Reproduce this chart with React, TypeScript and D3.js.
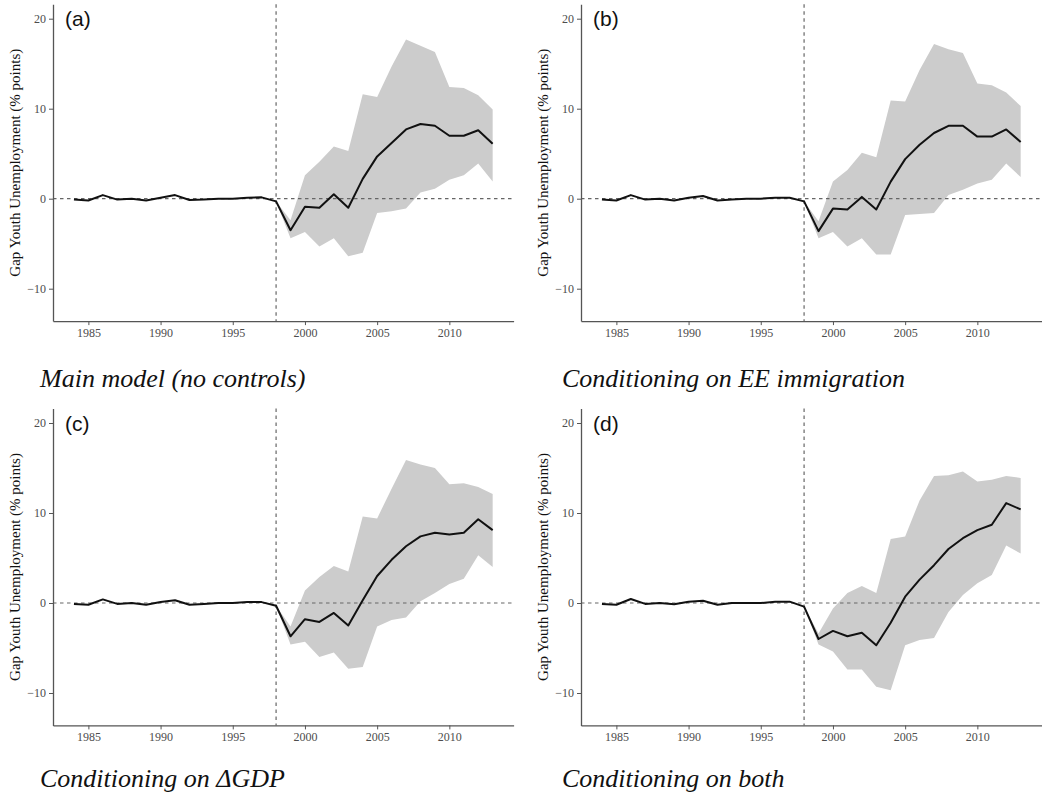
import React from "react";
import * as d3 from "d3";

// years of the series and of the post-treatment confidence band
const years = [
  1984, 1985, 1986, 1987, 1988, 1989, 1990, 1991, 1992, 1993, 1994, 1995, 1996,
  1997, 1998, 1999, 2000, 2001, 2002, 2003, 2004, 2005, 2006, 2007, 2008, 2009,
  2010, 2011, 2012, 2013,
];
const bandYears = [
  1998, 1999, 2000, 2001, 2002, 2003, 2004, 2005, 2006, 2007, 2008, 2009, 2010,
  2011, 2012, 2013,
];
const treatYear = 1998;

// (a) main model
const gapA = [
  -0.1, -0.2, 0.4, -0.1, 0.0, -0.2, 0.1, 0.4, -0.15, -0.1, 0.0, 0.0, 0.1, 0.15,
  -0.3, -3.5, -0.9, -1.0, 0.5, -1.0, 2.2, 4.7, 6.2, 7.7, 8.3, 8.1, 7.0, 7.0, 7.6, 6.1,
];
const upperA = [-0.3, -2.4, 2.6, 4.1, 5.8, 5.3, 11.6, 11.3, 14.7, 17.7, 17.0, 16.3, 12.4, 12.3, 11.5, 9.9];
const lowerA = [-0.3, -4.4, -3.7, -5.3, -4.4, -6.4, -6.0, -1.6, -1.4, -1.1, 0.7, 1.1, 2.1, 2.6, 3.9, 1.9];

// (b) EE immigration
const gapB = [
  -0.1, -0.2, 0.4, -0.1, 0.0, -0.2, 0.1, 0.3, -0.2, -0.1, 0.0, 0.0, 0.1, 0.1,
  -0.3, -3.6, -1.1, -1.2, 0.2, -1.2, 1.9, 4.4, 6.0, 7.3, 8.1, 8.1, 6.9, 6.9, 7.7, 6.3,
];
const upperB = [-0.3, -2.5, 1.9, 3.2, 5.1, 4.6, 10.9, 10.8, 14.3, 17.2, 16.6, 16.2, 12.8, 12.6, 11.8, 10.3];
const lowerB = [-0.3, -4.4, -3.7, -5.3, -4.4, -6.2, -6.2, -1.8, -1.7, -1.6, 0.4, 1.0, 1.7, 2.1, 3.9, 2.4];

// (c) delta GDP
const gapC = [
  -0.1, -0.2, 0.4, -0.1, 0.0, -0.2, 0.1, 0.3, -0.2, -0.1, 0.0, 0.0, 0.1, 0.1,
  -0.3, -3.7, -1.8, -2.1, -1.1, -2.5, 0.3, 3.0, 4.8, 6.3, 7.4, 7.8, 7.6, 7.8, 9.3, 8.1,
];
const upperC = [-0.3, -2.6, 1.4, 2.9, 4.1, 3.5, 9.6, 9.4, 12.7, 15.9, 15.4, 15.0, 13.2, 13.3, 12.9, 12.1];
const lowerC = [-0.3, -4.6, -4.3, -6.0, -5.5, -7.3, -7.1, -2.6, -1.9, -1.6, 0.2, 1.1, 2.1, 2.7, 5.3, 4.0];

// (d) both
const gapD = [
  -0.1, -0.2, 0.45, -0.1, 0.0, -0.15, 0.15, 0.25, -0.2, 0.0, 0.0, 0.0, 0.15, 0.15,
  -0.4, -4.0, -3.1, -3.7, -3.3, -4.7, -2.2, 0.7, 2.6, 4.2, 6.0, 7.2, 8.1, 8.7, 11.1, 10.4,
];
const upperD = [-0.4, -3.4, -0.6, 1.1, 1.9, 1.1, 7.1, 7.4, 11.4, 14.1, 14.2, 14.6, 13.5, 13.7, 14.1, 13.9];
const lowerD = [-0.4, -4.6, -5.4, -7.4, -7.4, -9.3, -9.7, -4.7, -4.1, -3.9, -1.0, 0.9, 2.2, 3.1, 6.4, 5.5];

const panelLabels = ["(a)", "(b)", "(c)", "(d)"];
const captions = [
  "Main model (no controls)",
  "Conditioning on EE immigration",
  "Conditioning on \u0394GDP",
  "Conditioning on both",
];
const yTitle = "Gap Youth Unemployment (% points)";
const xTicks = [1985, 1990, 1995, 2000, 2005, 2010];
const yTicks = [-10, 0, 10, 20];

const panels = [
  { gap: gapA, upper: upperA, lower: lowerA },
  { gap: gapB, upper: upperB, lower: lowerB },
  { gap: gapC, upper: upperC, lower: lowerC },
  { gap: gapD, upper: upperD, lower: lowerD },
];

const SERIF = "'Liberation Serif', 'Times New Roman', serif";
const SANS = "'Liberation Sans', Arial, sans-serif";

function App() {
  const svgRef = React.useRef<SVGSVGElement>(null);

  React.useEffect(() => {
    const svg = d3.select(svgRef.current);
    svg.selectAll("*").remove();

    const colLeft = [53, 581];
    const rowTop = [4.3, 408.6];
    const captionX = [40, 562];
    const captionY = [387, 787];
    const w = 460.6;
    const h = 316.8;

    panels.forEach((p, i) => {
      const col = i % 2;
      const row = Math.floor(i / 2);
      const left = colLeft[col];
      const top = rowTop[row];

      const x = d3.scaleLinear().domain([1982.55, 2014.45]).range([left, left + w]);
      const y = d3.scaleLinear().domain([-13.6, 21.6]).range([top + h, top]);

      const g = svg.append("g");

      // ribbon
      const band = bandYears.map((yr, j) => ({ yr, lo: p.lower[j], hi: p.upper[j] }));
      const areaGen = d3
        .area<{ yr: number; lo: number; hi: number }>()
        .x((d) => x(d.yr))
        .y0((d) => y(d.lo))
        .y1((d) => y(d.hi));
      g.append("path").datum(band).attr("fill", "#cccccc").attr("d", areaGen);

      // reference lines
      g.append("line")
        .attr("x1", x(1982.55))
        .attr("x2", x(2014.45))
        .attr("y1", y(0))
        .attr("y2", y(0))
        .attr("stroke", "#666")
        .attr("stroke-width", 1.2)
        .attr("stroke-dasharray", "3.5,3.5");
      g.append("line")
        .attr("x1", x(treatYear))
        .attr("x2", x(treatYear))
        .attr("y1", y(21.6))
        .attr("y2", y(-13.6))
        .attr("stroke", "#666")
        .attr("stroke-width", 1.2)
        .attr("stroke-dasharray", "3.5,3.5");

      // gap line
      const lineGen = d3
        .line<number>()
        .x((_, j) => x(years[j]))
        .y((d) => y(d));
      g.append("path")
        .datum(p.gap)
        .attr("fill", "none")
        .attr("stroke", "#111")
        .attr("stroke-width", 2)
        .attr("stroke-linejoin", "round")
        .attr("d", lineGen);

      // axes
      const xAxis = d3
        .axisBottom(x)
        .tickValues(xTicks)
        .tickFormat(d3.format("d"))
        .tickSize(4)
        .tickSizeOuter(0)
        .tickPadding(3);
      const xg = g.append("g").attr("transform", `translate(0, ${top + h})`).call(xAxis);

      const yAxis = d3
        .axisLeft(y)
        .tickValues(yTicks)
        .tickSize(4)
        .tickSizeOuter(0)
        .tickPadding(3);
      const yg = g.append("g").attr("transform", `translate(${left}, 0)`).call(yAxis);

      [xg, yg].forEach((ag) => {
        ag.select(".domain").attr("stroke", "#555").attr("stroke-width", 1.3);
        ag.selectAll(".tick line").attr("stroke", "#555").attr("stroke-width", 1);
        ag.selectAll(".tick text")
          .attr("fill", "#4d4d4d")
          .style("font-family", SERIF)
          .style("font-size", "12px");
      });

      // y title
      g.append("text")
        .attr("transform", `translate(${left - 38}, ${top + h / 2}) rotate(-90)`)
        .attr("text-anchor", "middle")
        .attr("dy", "0.35em")
        .attr("fill", "#111")
        .style("font-family", SERIF)
        .style("font-size", "15px")
        .text(yTitle);

      // panel label
      g.append("text")
        .attr("x", left + 12)
        .attr("y", top + 22)
        .attr("fill", "#111")
        .style("font-family", SANS)
        .style("font-size", "21px")
        .text(panelLabels[i]);

      // caption
      g.append("text")
        .attr("x", captionX[col])
        .attr("y", captionY[row])
        .attr("fill", "#111")
        .style("font-family", SERIF)
        .style("font-style", "italic")
        .style("font-size", "26px")
        .text(captions[i]);
    });
  }, []);

  return (
    <div style={{ position: "absolute", left: 0, top: 0, width: 1042, height: 800, background: "#fff" }}>
      <svg ref={svgRef} width={1042} height={800} />
    </div>
  );
}

export default App;
